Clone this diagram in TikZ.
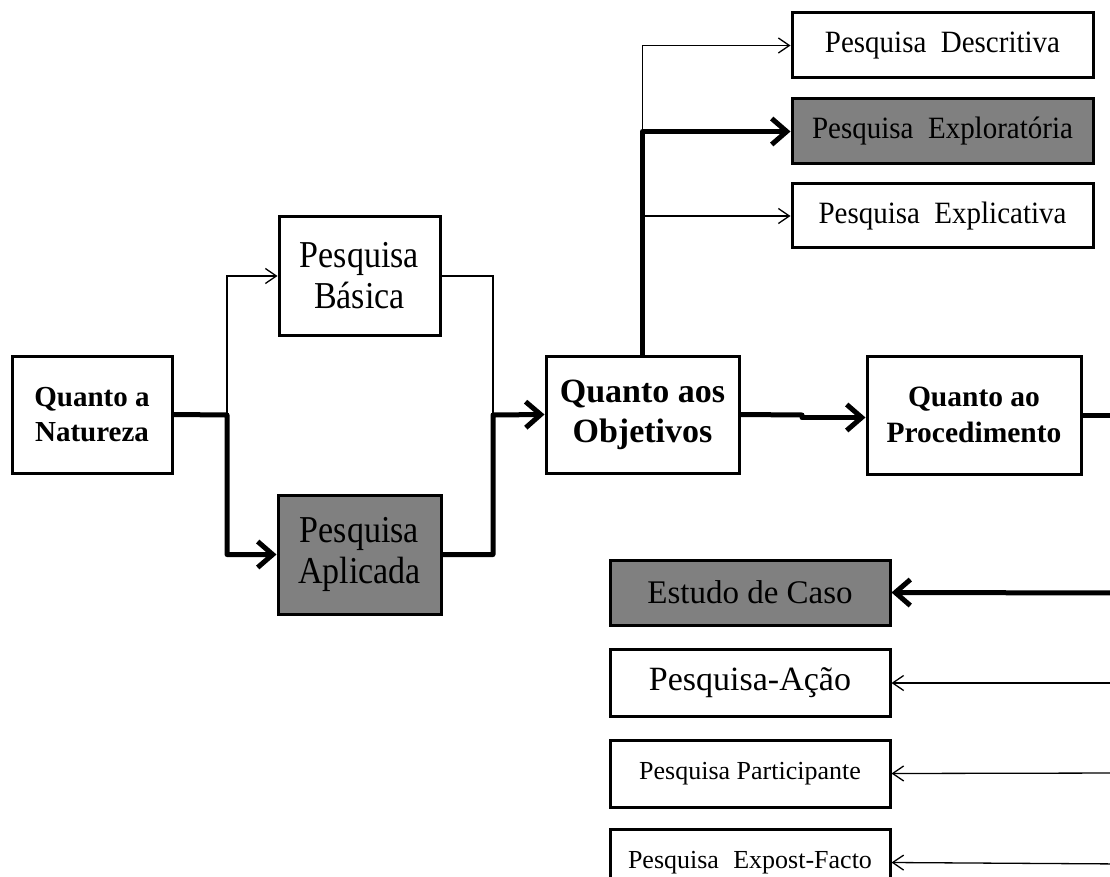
\documentclass[tikz,border=0pt]{standalone}
\usepackage{fontspec}
\setmainfont{Liberation Serif}
\newfontfamily\tallserif{Liberation Serif}[FakeStretch=0.895]
\newfontfamily\midserif{Liberation Serif}[FakeStretch=0.935]
\usetikzlibrary{arrows.meta}
\definecolor{boxgray}{HTML}{808080}
\tikzset{
  box/.style={draw=black, line width=3pt, inner sep=0pt, align=center, fill=white},
  graybox/.style={box, fill=boxgray},
  thinline/.style={line width=1.3pt},
  thickline/.style={line width=5pt, line cap=round, line join=round},
  thinarrow/.style={thinline, -{Straight Barb[length=11pt,width=15pt]}},
  thickarrow/.style={thickline, -{Straight Barb[length=15pt,width=26pt]}}
}
\begin{document}
\begin{tikzpicture}[x=1pt,y=-1pt]
\useasboundingbox (0,0) rectangle (1110,877);
\clip (0,0) rectangle (1110,877);
% boxes
\node[box, minimum width=160pt, minimum height=117pt, font=\fontsize{29}{35}\selectfont\bfseries] (nat) at (92,414.5) {Quanto a\\Natureza};
\node[box, minimum width=161pt, minimum height=118pt, font=\tallserif\fontsize{38}{41}\selectfont] (bas) at (359.5,276) {Pesquisa\\Básica};
\node[graybox, minimum width=163pt, minimum height=119pt, font=\tallserif\fontsize{38}{41}\selectfont] (apl) at (359.5,554.5) {Pesquisa\\Aplicada};
\node[box, minimum width=193pt, minimum height=117pt, font=\fontsize{34}{40}\selectfont\bfseries] (obj) at (642.5,414.5) {Quanto aos\\Objetivos};
\node[box, minimum width=214pt, minimum height=118pt, font=\fontsize{29.5}{36}\selectfont\bfseries] (proc) at (974,415) {Quanto ao\\Procedimento};
\node[box, minimum width=301pt, minimum height=65pt, font=\midserif\fontsize{31}{35}\selectfont] (desc) at (942.5,45.5) {Pesquisa\ \ Descritiva};
\node[graybox, minimum width=301pt, minimum height=65pt, font=\midserif\fontsize{31}{35}\selectfont] (expl) at (942.5,131.5) {Pesquisa\ \ Exploratória};
\node[box, minimum width=301pt, minimum height=64pt, font=\midserif\fontsize{31}{35}\selectfont] (expc) at (942.5,216) {Pesquisa\ \ Explicativa};
\node[graybox, minimum width=280pt, minimum height=65pt, font=\fontsize{33}{40}\selectfont] (est) at (750,592.5) {Estudo de Caso};
\node[box, minimum width=280pt, minimum height=67pt, font=\fontsize{34}{40}\selectfont] (acao) at (750,683) {Pesquisa-Ação};
\node[box, minimum width=280pt, minimum height=67pt, font=\fontsize{26}{31}\selectfont] (part) at (750,773.5) {Pesquisa Participante};
\node[box, minimum width=280pt, minimum height=67pt, font=\fontsize{26}{31}\selectfont] (expo) at (750,862.5) {Pesquisa\hspace{0.55em}Expost-Facto};
% junctions
\coordinate (j1) at (227,415);
\coordinate (j2) at (493,415);
\coordinate (j3) at (642.5,131.5);
\coordinate (j4) at (642.5,216);
\coordinate (k1) at (802,415);
\coordinate (k2) at (802,417.5);
\coordinate (r0) at (1125,415);
\coordinate (r1) at (1125,593);
\coordinate (r2) at (1125,683);
\coordinate (r3) at (1125,773);
\coordinate (r4) at (1125,864);
% thin connectors
\draw[thinarrow] (j1) |- (bas.west);
\draw[thinline] (bas.east) -| (j2);
\draw[thinarrow] (j3) |- (desc.west);
\draw[thinarrow] (j4) -- (expc.west);
\draw[thinarrow] (r2) -- (acao.east);
\draw[thinarrow] (r3) -- (part.east);
\draw[thinarrow] (r4) -- (expo.east);
% thick connectors
\draw[thickarrow] (nat.east) -- (j1) |- (apl.west);
\draw[thickarrow] (apl.east) -| (j2) -- (obj.west);
\draw[thickarrow] (obj.north) -- (j3) -- (expl.west);
\draw[thickline] (obj.east) -- (k1);
\draw[thickarrow] (k2) -- (proc.west |- k2);
\draw[thickline] (proc.east) -- (r0);
\draw[thickarrow] (r1) -- (est.east);
\end{tikzpicture}
\end{document}
